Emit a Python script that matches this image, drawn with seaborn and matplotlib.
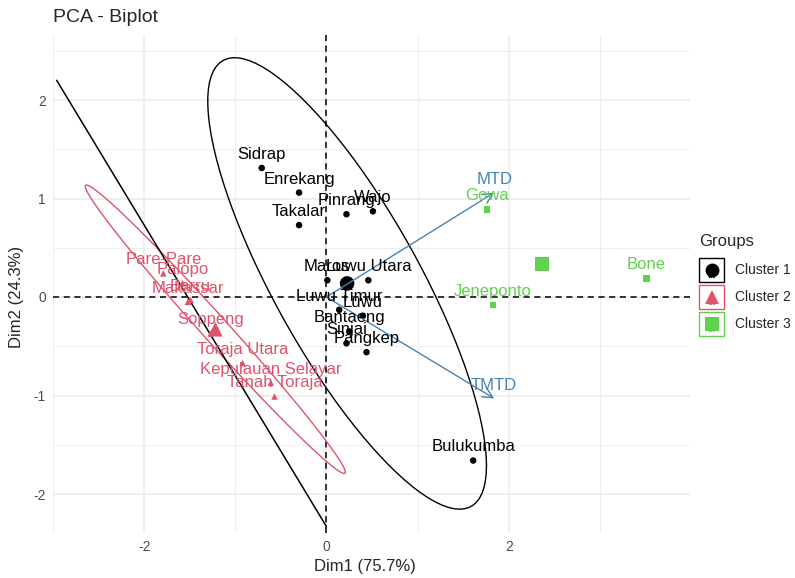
import numpy as np
import pandas as pd
import matplotlib.pyplot as plt
import seaborn as sns
from matplotlib.patches import Rectangle
from matplotlib.lines import Line2D

# Datos
c1_names = ['Sidrap', 'Enrekang', 'Takalar', 'Pinrang', 'Wajo', 'Maros', 'Luwu Utara',
            'Luwu Timur', 'Luwu', 'Bantaeng', 'Sinjai', 'Pangkep', 'Bulukumba']
c1_x = [-0.71, -0.30, -0.30, 0.22, 0.51, 0.01, 0.46, 0.14, 0.40, 0.25, 0.22, 0.44, 1.61]
c1_y = [1.31, 1.06, 0.73, 0.84, 0.87, 0.17, 0.17, -0.13, -0.19, -0.35, -0.47, -0.56, -1.66]

c2_names = ['Pare-Pare', 'Palopo', 'Makassar', 'Barru', 'Soppeng', 'Toraja Utara',
            'Kepulauan Selayar', 'Tanah Toraja']
c2_x = [-1.79, -1.58, -1.52, -1.49, -1.27, -0.92, -0.61, -0.57]
c2_y = [0.24, 0.14, -0.05, -0.03, -0.37, -0.67, -0.87, -1.01]

c3_names = ['Gowa', 'Bone', 'Jeneponto']
c3_x = [1.76, 3.51, 1.83]
c3_y = [0.89, 0.19, -0.08]

var_names = ['MTD', 'TMTD']
var_x = [1.84, 1.84]
var_y = [1.06, -1.03]

# segmento negro que cruza el panel
linea_x = [-2.96, 0.0]
linea_y = [2.20, -2.33]

grupos = ['Cluster 1', 'Cluster 2', 'Cluster 3']
colores = {'Cluster 1': '#000000', 'Cluster 2': '#DF536B', 'Cluster 3': '#61D04F'}
marcadores = {'Cluster 1': 'o', 'Cluster 2': '^', 'Cluster 3': 's'}

df = pd.DataFrame({
    'nombre': c1_names + c2_names + c3_names,
    'Dim1': c1_x + c2_x + c3_x,
    'Dim2': c1_y + c2_y + c3_y,
    'grupo': ['Cluster 1'] * len(c1_names) + ['Cluster 2'] * len(c2_names) + ['Cluster 3'] * len(c3_names),
})
medias = df.groupby('grupo', as_index=False)[['Dim1', 'Dim2']].mean()

sns.set_theme(style='whitegrid')
plt.rcParams['font.family'] = ['Liberation Sans', 'DejaVu Sans']

W, H = 795, 578
L, R, T, B = 53, 690, 35, 533
fig = plt.figure(figsize=(W / 100, H / 100), dpi=100)
ax = fig.add_axes([L / W, 1 - B / H, (R - L) / W, (B - T) / H])


def elipse_norm(x, y, nivel=0.95, n_seg=100):
    # como stat_ellipse(type = 'norm')
    pts = np.column_stack([x, y])
    d2 = len(pts) - 1
    f = d2 / 2 * ((1 - nivel) ** (-2 / d2) - 1)
    radio = np.sqrt(2 * f)
    centro = pts.mean(axis=0)
    chol = np.linalg.cholesky(np.cov(pts.T)).T
    t = np.linspace(0, 2 * np.pi, n_seg)
    circ = np.column_stack([np.cos(t), np.sin(t)])
    return centro + radio * circ @ chol


for g, xs, ys in [('Cluster 1', c1_x, c1_y), ('Cluster 2', c2_x, c2_y)]:
    e = elipse_norm(xs, ys)
    ax.plot(e[:, 0], e[:, 1], color=colores[g], lw=1.0, zorder=2)

ax.plot(linea_x, linea_y, color='black', lw=1.1, zorder=2)

ax.axhline(0, color='black', ls='--', lw=1.1, dashes=(4, 3), zorder=1.5)
ax.axvline(0, color='black', ls='--', lw=1.1, dashes=(4, 3), zorder=1.5)

sns.scatterplot(data=df, x='Dim1', y='Dim2', hue='grupo', style='grupo',
                palette=colores, markers=marcadores, s=22, linewidth=0,
                legend=False, ax=ax, zorder=3)
sns.scatterplot(data=medias, x='Dim1', y='Dim2', hue='grupo', style='grupo',
                palette=colores, markers=marcadores, s=110, linewidth=0,
                legend=False, ax=ax, zorder=3)

for _, fila in df.iterrows():
    ax.annotate(fila['nombre'], (fila['Dim1'], fila['Dim2']), xytext=(0, 6.5),
                textcoords='offset points', ha='center', va='baseline',
                fontsize=12, color=colores[fila['grupo']], zorder=4)

for nombre, vx, vy in zip(var_names, var_x, var_y):
    ax.annotate('', xy=(vx, vy), xytext=(0, 0),
                arrowprops=dict(arrowstyle='->,head_length=0.6,head_width=0.3',
                                color='#4682B4', lw=1.0, shrinkA=0, shrinkB=0), zorder=3)
    ax.annotate(nombre, (vx, vy), xytext=(0, 6), textcoords='offset points',
                ha='center', va='baseline', fontsize=12, color='#4682B4', zorder=4)

# escala: 0 en x=325 px, 91.5 px por unidad; 0 en y=297 px, 98.5 px por unidad
ax.set_xlim((L - 325) / 91.5, (R - 325) / 91.5)
ax.set_ylim((297 - B) / 98.5, (297 - T) / 98.5)
ax.set_xticks([-2, 0, 2])
ax.set_xticks([-3, -1, 1, 3], minor=True)
ax.set_yticks([-2, -1, 0, 1, 2])
ax.set_yticks([-1.5, -0.5, 0.5, 1.5, 2.5], minor=True)
ax.set_xticklabels(['-2', '0', '2'])
ax.set_yticklabels(['-2', '-1', '0', '1', '2'])
ax.set_facecolor('white')
ax.grid(which='major', color='#EBEBEB', lw=1.1)
ax.grid(which='minor', color='#EBEBEB', lw=0.6)
ax.tick_params(which='major', length=2.5, width=0.8, color='#333333',
               labelsize=10, labelcolor='#4D4D4D', pad=2.5)
ax.tick_params(which='minor', length=0)
for s in ax.spines.values():
    s.set_visible(False)
ax.set_xlabel('')
ax.set_ylabel('')

fig.text(L / W, 1 - 18 / H, 'PCA - Biplot', fontsize=14, ha='left', va='center')
fig.text(365 / W, 1 - 567 / H, 'Dim1 (75.7%)', fontsize=12, ha='center', va='center')
fig.text(17 / W, 1 - 297 / H, 'Dim2 (24.3%)', fontsize=12, ha='center', va='center',
         rotation=90)

# Leyenda dibujada a mano (cajas con borde de color)
fig.text(699 / W, 1 - 241 / H, 'Groups', fontsize=12, ha='left', va='center')
for i, g in enumerate(grupos):
    cy = 270 + i * 27
    fig.add_artist(Rectangle((699 / W, 1 - (cy + 12) / H), 25 / W, 24 / H,
                             transform=fig.transFigure, fill=False,
                             edgecolor=colores[g], lw=1.0))
    fig.text(711.5 / W, 1 - (cy + 5) / H, 'a', fontsize=9, ha='center', va='center',
             color=colores[g])
    fig.add_artist(Line2D([711.5 / W], [1 - cy / H], transform=fig.transFigure,
                          marker=marcadores[g], markersize=10, color=colores[g],
                          markeredgewidth=0, linestyle='none'))
    fig.text(735 / W, 1 - cy / H, g, fontsize=10, ha='left', va='center')

fig.savefig('out.png', dpi=100)
